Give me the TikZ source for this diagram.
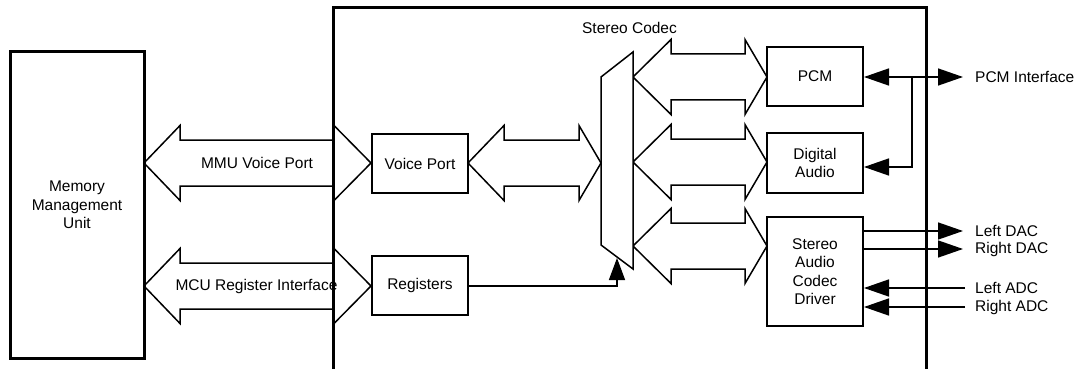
\documentclass[tikz,border=0pt]{standalone}
\usepackage{fontspec}
\setmainfont{Liberation Sans}
\usetikzlibrary{arrows.meta}
\tikzset{
  thin line/.style={line width=1.5pt},
  blockarrow/.style={line width=1.5pt, fill=white, line join=miter},
  outerbox/.style={line width=3pt},
  block/.style={draw, line width=2pt, minimum width=96pt, align=center, inner sep=0pt, font=\fontsize{15.5}{18.5}\selectfont},
  lbl/.style={font=\fontsize{15.5}{18.5}\selectfont, inner sep=0pt, align=center},
  tri/.style={-{Triangle[length=25pt,width=17pt]}},
  bitri/.style={{Triangle[length=25pt,width=17pt]}-{Triangle[length=25pt,width=17pt]}},
  smalltri/.style={-{Triangle[length=22pt,width=16pt]}}
}
\newcommand{\dblarr}[7]{%
  \draw[blockarrow] (#1,#5) -- (#2,{#5-#6}) -- (#2,{#5-#7}) -- (#3,{#5-#7}) -- (#3,{#5-#6}) -- (#4,#5)
    -- (#3,{#5+#6}) -- (#3,{#5+#7}) -- (#2,{#5+#7}) -- (#2,{#5+#6}) -- cycle;}
\begin{document}
\begin{tikzpicture}[x=1pt,y=-1pt]
\useasboundingbox (0,0) rectangle (1080,369);
\clip (0,0) rectangle (1080,369);
\fill[white] (0,0) rectangle (1080,369);

% block arrows
\dblarr{144}{180}{334}{371}{163}{37.5}{23}
\dblarr{144}{180}{334}{371}{286}{37.5}{23}
\dblarr{468}{504}{579}{601}{163}{37.5}{23}
\dblarr{633}{671}{745}{767}{77}{37.5}{23}
\dblarr{633}{671}{745}{767}{162}{37.5}{23}
\dblarr{633}{671}{745}{767}{246}{37.5}{23}

% MMU
\node[draw, line width=3pt, minimum width=134pt, minimum height=306pt, inner sep=0pt] (mmu) at (77,205) {};
\node[lbl] (mmut) at (77,205) {Memory\\Management\\Unit};

% outer codec box
\draw[outerbox] (333,385) -- (333,8) -- (926,8) -- (926,385);
\node[lbl] (codec) at (629.5,28) {Stereo Codec};

% arrow labels
\node[lbl] (mmuvp) at (257,163) {MMU Voice Port};
\node[lbl] (mcuri) at (256.5,286) {MCU Register Interface};

% inner blocks
\node[block, minimum height=59pt] (vp) at (420,163.5) {Voice Port};
\node[block, minimum height=59pt] (reg) at (420,285.5) {Registers};
\node[block, minimum height=59pt] (pcm) at (815,76.5) {PCM};
\node[block, minimum height=60pt] (da) at (815,163) {Digital\\Audio};
\node[block, minimum height=109pt] (drv) at (815,271.5) {Stereo\\Audio\\Codec\\Driver};

% mux
\draw[line width=1.5pt, fill=white] (601,77) coordinate (muxtl) -- (633,52) -- (633,269) -- (601,245) -- cycle;
\coordinate (muxbot) at (617,258);
\draw[thin line, smalltri] (reg.east |- 0,286) -| (muxbot);

% right side connectors
\coordinate (pcmout) at (963,77);
\coordinate (split) at (912,77);
\draw[thin line, bitri] (pcm.east |- 0,77) -- (pcmout);
\draw[thin line, tri] (split) |- (da.east |- 0,167);
\node[lbl, anchor=west] (pcmif) at (975,77) {PCM Interface};

\coordinate (ldac) at (963,231);
\coordinate (rdac) at (963,249);
\coordinate (ladc) at (965,288);
\coordinate (radc) at (965,307);
\draw[thin line, tri] (drv.east |- ldac) -- (ldac);
\draw[thin line, tri] (drv.east |- rdac) -- (rdac);
\draw[thin line, tri] (ladc) -- (drv.east |- ladc);
\draw[thin line, tri] (radc) -- (drv.east |- radc);
\node[lbl, anchor=west] (ldact) at (975,231) {Left DAC};
\node[lbl, anchor=west] (rdact) at (975,249) {Right DAC};
\node[lbl, anchor=west] (ladct) at (975,288) {Left ADC};
\node[lbl, anchor=west] (radct) at (975,307) {Right ADC};
\end{tikzpicture}
\end{document}
